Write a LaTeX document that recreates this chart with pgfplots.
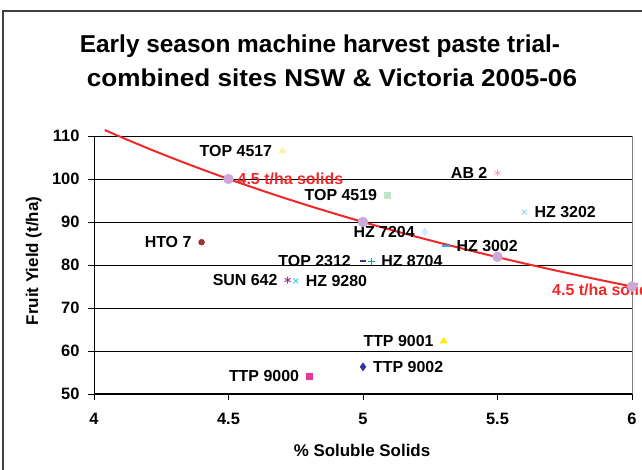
\documentclass[border=0pt]{standalone}
\usepackage{fontspec}
\setmainfont{Liberation Sans}
\usepackage{graphicx}
\usepackage{pgfplots}
\pgfplotsset{compat=1.18}
\definecolor{cTOPa}{HTML}{FFF0A0}
\definecolor{cAB}{HTML}{FF99CC}
\definecolor{cTOPb}{HTML}{BFE6C6}
\definecolor{cHZa}{HTML}{99CCFF}
\definecolor{cHZb}{HTML}{CCEEFF}
\definecolor{cHZc}{HTML}{1EB4F0}
\definecolor{cNavy}{HTML}{333399}
\definecolor{cTeal}{HTML}{00A6A6}
\definecolor{cHTO}{HTML}{993333}
\definecolor{cSUN}{HTML}{993399}
\definecolor{cHZd}{HTML}{33CCFF}
\definecolor{cYel}{HTML}{FFEE00}
\definecolor{cMag}{HTML}{EE3399}
\definecolor{cLav}{HTML}{CCA8D8}
\definecolor{cRed}{HTML}{F02828}
\tikzset{
  labfont/.style={font=\bfseries\fontsize{16}{18}\selectfont, inner sep=0pt},
  labL/.style={labfont, anchor=east, xshift=-10bp},
  labR/.style={labfont, anchor=west, xshift=10bp},
}
\begin{document}
\begin{tikzpicture}[x=1bp,y=1bp]
\draw[black!75, line width=1.5bp] (3,-10) rectangle (660,459);
\node[anchor=base, font=\bfseries\fontsize{24.5}{28}\selectfont] at (320,417) {Early season machine harvest paste trial-};
\node[anchor=base, font=\bfseries\fontsize{24.5}{28}\selectfont] at (332,383) {\scalebox{1.07}[1]{combined sites NSW \& Victoria 2005-06}};
\node[anchor=base, rotate=90, font=\bfseries\fontsize{17}{20}\selectfont] at (38,209) {Fruit Yield (t/ha)};
\node[anchor=base, font=\bfseries\fontsize{17}{20}\selectfont] at (362,13) {\% Soluble Solids};
\begin{axis}[
  at={(94bp,76bp)}, anchor=south west,
  scale only axis, width=538bp, height=258bp,
  xmin=4, xmax=6, ymin=50, ymax=110,
  xtick={4,4.5,5,5.5,6}, ytick={50,60,70,80,90,100,110},
  axis x line*=bottom, axis y line*=left,
  axis line style={black, line width=1bp, -},
  xtick pos=bottom, ytick pos=left,
  ymajorgrids, grid style={black, line width=0.9bp},
  tick align=outside, major tick length=6bp, tick style={black, line width=0.9bp},
  /pgf/number format/assume math mode=true,
  ticklabel style={font=\bfseries\fontsize{16.5}{18}\selectfont},
  xticklabel style={yshift=-10bp},
  yticklabel style={xshift=-5bp},
  clip=false,
]
\draw[black!50, line width=1bp] (rel axis cs:1,0) -- (rel axis cs:1,1);
% trend line: 4.5 t/ha solids (yield = 450 / solids)
\addplot[cRed, line width=2bp, no marks, smooth] coordinates {
(4.04,111.39) (4.1,109.76) (4.2,107.14) (4.3,104.65) (4.4,102.27) (4.5,100.00)
(4.6,97.83) (4.7,95.74) (4.8,93.75) (4.9,91.84) (5.0,90.00) (5.1,88.24)
(5.2,86.54) (5.3,84.91) (5.4,83.33) (5.5,81.82) (5.6,80.36) (5.7,78.95)
(5.8,77.59) (5.9,76.27) (6.0,75.00)};
\addplot[only marks, mark=*, mark size=5bp, cLav, mark options={fill=cLav, draw=cLav}] coordinates {(4.5,100) (5.0,90) (5.5,81.9) (6.0,75)};
% cultivars
\addplot[only marks, mark=triangle*, mark size=4bp, mark options={fill=cTOPa, draw=cTOPa}] coordinates {(4.70,106.5)};
\addplot[only marks, mark=asterisk, mark size=3.5bp, mark options={draw=cAB, line width=0.8bp}] coordinates {(5.50,101.4)};
\addplot[only marks, mark=square*, mark size=3bp, mark options={fill=cTOPb, draw=cTOPb}] coordinates {(5.09,96.3)};
\addplot[only marks, mark=x, mark size=3.5bp, mark options={draw=cHZa, line width=0.9bp}] coordinates {(5.60,92.3)};
\addplot[only marks, mark=diamond*, mark size=4bp, mark options={fill=cHZb, draw=cHZb}] coordinates {(5.23,87.7)};
\addplot[only marks, mark=-, mark size=4bp, mark options={draw=cHZc, line width=2bp}] coordinates {(5.31,84.4)};
\addplot[only marks, mark=-, mark size=3bp, mark options={draw=cNavy, line width=1.6bp}] coordinates {(5.00,80.9)};
\addplot[only marks, mark=+, mark size=3.5bp, mark options={draw=cTeal, line width=1bp}] coordinates {(5.03,80.9)};
\addplot[only marks, mark=*, mark size=3bp, mark options={fill=cHTO, draw=cHTO}] coordinates {(4.40,85.3)};
\addplot[only marks, mark=asterisk, mark size=3.5bp, mark options={draw=cSUN, line width=0.9bp}] coordinates {(4.72,76.5)};
\addplot[only marks, mark=x, mark size=3.5bp, mark options={draw=cHZd, line width=0.9bp}] coordinates {(4.75,76.3)};
\addplot[only marks, mark=triangle*, mark size=4bp, mark options={fill=cYel, draw=cYel}] coordinates {(5.30,62.3)};
\addplot[only marks, mark=diamond*, mark size=4bp, mark options={fill=cNavy, draw=cNavy}] coordinates {(5.00,56.3)};
\addplot[only marks, mark=square*, mark size=3bp, mark options={fill=cMag, draw=cMag}] coordinates {(4.80,54.2)};
% labels
\node[labL] at (axis cs:4.70,106.5) {TOP 4517};
\node[labL] at (axis cs:5.50,101.4) {AB 2};
\node[labL] at (axis cs:5.09,96.3) {TOP 4519};
\node[labR] at (axis cs:5.60,92.3) {HZ 3202};
\node[labL] at (axis cs:5.23,87.7) {HZ 7204};
\node[labR] at (axis cs:5.31,84.4) {HZ 3002};
\node[labL, xshift=-2bp] at (axis cs:5.00,80.9) {TOP 2312};
\node[labR] at (axis cs:5.03,80.9) {HZ 8704};
\node[labL] at (axis cs:4.40,85.3) {HTO 7};
\node[labL] at (axis cs:4.72,76.5) {SUN 642};
\node[labR] at (axis cs:4.75,76.3) {HZ 9280};
\node[labL] at (axis cs:5.30,62.3) {TTP 9001};
\node[labR] at (axis cs:5.00,56.3) {TTP 9002};
\node[labL] at (axis cs:4.80,54.2) {TTP 9000};
\node[labfont, anchor=west, xshift=9bp, text=cRed] at (axis cs:4.5,100) {4.5 t/ha solids};
\node[labfont, anchor=west, xshift=-80bp, yshift=-3bp, text=cRed] at (axis cs:6.0,75) {4.5 t/ha solids};
\end{axis}
\pgfresetboundingbox
\path[use as bounding box] (0,0) rectangle (642,470);
\end{tikzpicture}
\end{document}
